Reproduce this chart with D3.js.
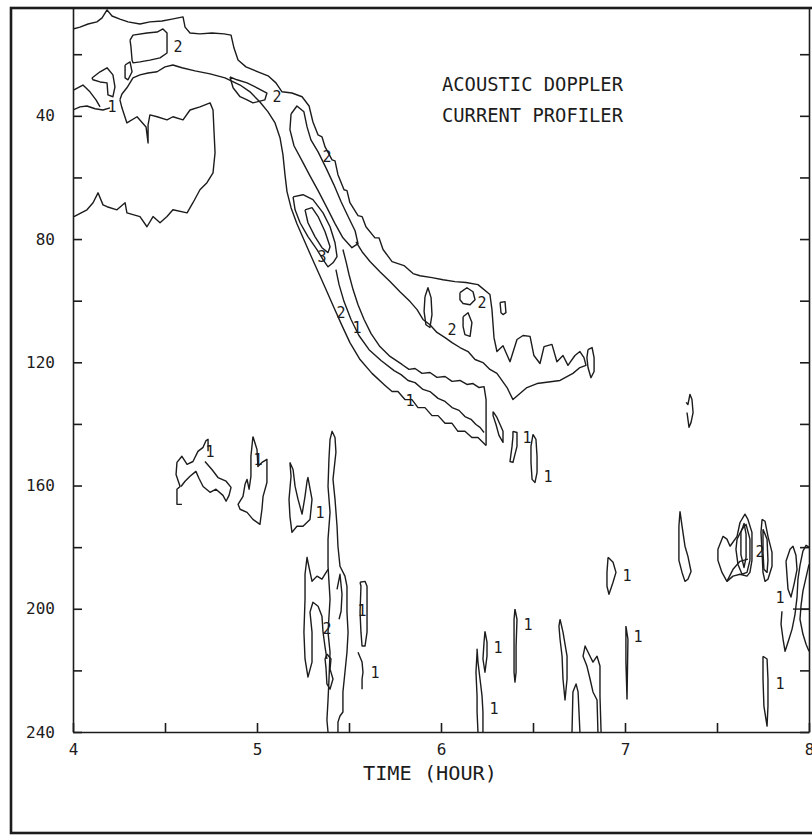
<!DOCTYPE html>
<html>
<head>
<meta charset="utf-8">
<script src="https://cdn.jsdelivr.net/npm/d3@7"></script>
<style>
  body { margin: 0; background: #fff; }
  svg { display: block; }
  text { font-family: "DejaVu Sans Mono", monospace; fill: #1c1c1c; }
</style>
</head>
<body>
<script>
// axis ticks
var hourTicks = [4, 4.5, 5, 5.5, 6, 6.5, 7, 7.5, 8];
var depthTicks = [20, 40, 60, 80, 100, 120, 140, 160, 180, 200, 220, 240];
var depthLabels = [40, 80, 120, 160, 200, 240];

// contour lines, [hour, depth]
var topLine = [[4.000,11.8],[4.038,11.2],[4.082,10.2],[4.130,9.5],[4.158,8.2],[4.185,5.6],[4.212,7.6],[4.255,8.6],[4.299,9.5],[4.364,10.2],[4.418,9.5],[4.484,9.2],[4.538,8.6],[4.598,7.9],[4.609,11.2],[4.636,13.1],[4.690,13.4],[4.755,13.1],[4.821,13.4],[4.859,13.8],[4.875,18.0],[4.897,21.9],[4.940,24.1],[5.005,25.7],[5.060,27.0],[5.103,29.3],[5.136,32.2],[5.190,32.6],[5.245,33.8],[5.283,36.8],[5.304,42.0],[5.332,46.2],[5.353,46.8],[5.370,50.1],[5.408,54.3],[5.424,54.6],[5.440,59.1],[5.473,64.0],[5.489,64.3],[5.505,68.2],[5.549,72.4],[5.571,72.7],[5.592,76.0],[5.641,79.6],[5.663,79.6],[5.685,83.4],[5.734,87.3],[5.799,88.6],[5.848,91.2],[5.886,91.9],[5.951,92.5],[6.011,93.2],[6.076,93.8],[6.136,94.1],[6.201,94.8],[6.266,98.0],[6.277,102.9],[6.283,107.8],[6.288,112.0],[6.304,116.5],[6.337,114.6],[6.375,119.8],[6.413,112.6],[6.446,111.3],[6.484,111.6],[6.505,117.8],[6.538,120.4],[6.560,114.9],[6.603,114.2],[6.630,119.8],[6.663,117.8],[6.690,121.0],[6.728,117.8],[6.755,116.5],[6.777,118.5],[6.788,121.0],[6.755,121.7],[6.717,123.6],[6.647,125.9],[6.522,126.9],[6.467,128.2],[6.391,132.1],[6.359,128.2],[6.304,123.6],[6.266,122.3],[6.228,120.1],[6.185,119.1],[6.147,116.5],[6.103,115.2],[6.060,113.6],[6.022,112.0],[5.978,110.3],[5.940,107.8],[5.902,106.1],[5.870,102.9],[5.832,100.3],[5.777,97.1],[5.723,93.8],[5.668,90.6],[5.614,87.3],[5.571,84.1],[5.538,80.9]];
var loopA = [[5.185,39.4],[5.217,36.8],[5.255,38.7],[5.272,43.6],[5.293,47.8],[5.332,51.7],[5.375,56.9],[5.418,62.4],[5.457,67.9],[5.495,72.7],[5.533,77.3],[5.549,81.5],[5.516,82.8],[5.467,79.6],[5.424,75.0],[5.380,69.8],[5.332,64.3],[5.288,59.5],[5.245,54.6],[5.201,49.7],[5.179,44.5],[5.185,39.4]];
var loopB = [[5.196,66.3],[5.250,65.6],[5.304,67.2],[5.359,71.5],[5.397,76.0],[5.424,81.2],[5.435,85.7],[5.413,87.7],[5.386,89.0],[5.359,86.7],[5.326,83.4],[5.277,79.2],[5.234,74.7],[5.207,70.5],[5.196,66.3]];
var loopB3 = [[5.261,70.5],[5.299,69.8],[5.332,72.7],[5.370,77.6],[5.397,82.5],[5.386,84.4],[5.353,82.8],[5.315,79.2],[5.277,74.7],[5.261,70.5]];
var lowerLeft = [[4.000,38.1],[4.038,37.1],[4.076,36.8],[4.120,37.7],[4.163,38.1],[4.201,37.4]];
var lowerBand = [[4.255,34.8],[4.266,32.9],[4.293,30.9],[4.326,27.7],[4.364,26.7],[4.408,26.1],[4.457,25.7],[4.500,24.1],[4.543,23.5],[4.592,24.4],[4.663,25.4],[4.745,26.4],[4.826,27.7],[4.908,30.0],[4.962,32.2],[5.016,35.5],[5.060,38.7],[5.098,42.3],[5.125,47.1],[5.141,52.6],[5.152,59.1],[5.163,64.6],[5.185,69.8],[5.217,75.0],[5.255,80.2],[5.293,85.4],[5.332,90.6],[5.375,96.4],[5.418,102.2],[5.462,108.1],[5.505,113.6],[5.560,119.1],[5.625,123.6],[5.696,127.5],[5.734,129.5],[5.766,129.5],[5.804,132.1],[5.842,132.1],[5.875,134.7],[5.913,134.7],[5.951,137.3],[5.984,137.3],[6.022,139.8],[6.060,139.8],[6.092,142.4],[6.130,142.4],[6.168,144.4],[6.201,144.4],[6.223,145.7],[6.245,147.0]];
var midBand = [[5.429,89.9],[5.446,94.8],[5.473,100.3],[5.511,106.1],[5.554,111.3],[5.609,115.9],[5.674,119.4],[5.745,122.7],[5.783,124.0],[5.821,125.9],[5.859,126.6],[5.902,128.8],[5.940,129.5],[5.984,131.7],[6.022,132.7],[6.060,134.7],[6.098,135.6],[6.130,137.6],[6.163,138.5],[6.190,140.2],[6.212,141.1],[6.234,142.8]];
var upperBand = [[5.467,83.4],[5.484,87.3],[5.500,91.5],[5.522,96.4],[5.549,101.3],[5.582,106.1],[5.620,110.7],[5.668,114.9],[5.723,118.1],[5.788,120.7],[5.826,122.3],[5.859,122.0],[5.897,123.6],[5.940,123.3],[5.978,124.9],[6.022,124.6],[6.060,126.2],[6.103,125.9],[6.141,127.2],[6.174,126.9],[6.207,128.2],[6.234,127.9],[6.245,132.1],[6.245,138.5],[6.245,147.0]];
var blobTL = [[4.005,72.7],[4.076,70.5],[4.109,68.2],[4.136,65.0],[4.163,68.9],[4.185,69.5],[4.239,70.5],[4.283,68.2],[4.293,71.5],[4.364,72.7],[4.402,76.0],[4.435,72.7],[4.473,74.7],[4.511,72.7],[4.543,70.5],[4.620,71.5],[4.652,68.2],[4.690,64.0],[4.728,61.7],[4.761,58.5],[4.772,52.0],[4.766,44.5],[4.761,38.1],[4.745,35.8],[4.690,37.1],[4.636,38.1],[4.598,41.3],[4.543,40.3],[4.511,41.3],[4.457,40.3],[4.418,39.7],[4.408,42.9],[4.408,48.8],[4.397,43.6],[4.348,40.3],[4.293,42.3],[4.266,37.4],[4.255,34.8]];
var smallTL = [[4.103,27.7],[4.147,25.7],[4.185,24.4],[4.217,26.7],[4.228,30.6],[4.217,33.8],[4.190,33.2],[4.185,29.3],[4.147,29.0],[4.109,28.3],[4.103,27.7]];
var edgeTL = [[4.005,31.6],[4.054,30.0],[4.092,32.2],[4.125,34.8],[4.147,37.1]];
var loopTop2 = [[4.310,15.4],[4.326,13.8],[4.402,13.1],[4.457,12.8],[4.489,11.8],[4.511,13.1],[4.511,19.6],[4.473,21.2],[4.418,21.9],[4.364,22.5],[4.326,22.8],[4.321,21.9],[4.315,17.6],[4.310,15.4]];
var loopTop2b = [[4.283,23.5],[4.310,22.5],[4.321,25.7],[4.299,28.3],[4.283,27.7],[4.283,23.5]];
var loopTop3 = [[4.853,27.4],[4.891,28.3],[4.946,29.3],[5.000,30.9],[5.054,32.6],[5.043,34.8],[4.978,35.8],[4.946,34.8],[4.908,33.8],[4.870,30.9],[4.853,27.4]];

var patchA = [[4.592,166.1],[4.565,166.1],[4.565,161.2],[4.582,160.3],[4.560,156.4],[4.565,152.5],[4.592,150.5],[4.620,153.1],[4.652,152.2],[4.679,148.9],[4.707,147.6],[4.723,145.4],[4.734,145.0],[4.734,148.9]];
var patchB = [[4.717,152.2],[4.755,154.8],[4.788,157.4],[4.832,158.6],[4.859,160.6],[4.848,163.2],[4.832,165.1],[4.815,163.2],[4.777,161.2],[4.745,162.2],[4.707,160.3],[4.685,157.7],[4.668,155.4],[4.636,157.0],[4.609,158.6],[4.587,160.3]];
var patchC = [[4.978,144.1],[5.000,148.3],[5.005,153.8],[5.027,152.5],[5.054,151.5],[5.054,159.0],[5.033,163.5],[5.027,167.7],[5.016,172.6],[4.978,171.0],[4.946,168.7],[4.908,167.7],[4.897,166.1],[4.924,163.5],[4.935,159.6],[4.946,158.0],[4.957,161.2],[4.967,157.0],[4.967,150.5],[4.978,144.1]];
var patchD = [[5.179,152.5],[5.196,154.8],[5.207,160.3],[5.223,164.5],[5.245,169.3],[5.261,163.5],[5.272,158.6],[5.277,157.4],[5.299,164.5],[5.288,171.0],[5.250,173.2],[5.217,173.2],[5.190,175.2],[5.179,170.0],[5.174,164.5],[5.185,157.0],[5.179,152.5]];
var column = [[5.386,240],[5.380,236.1],[5.386,229.6],[5.391,223.2],[5.397,214.1],[5.386,207.6],[5.397,196.9],[5.386,186.2],[5.386,177.4],[5.397,168.7],[5.386,160.3],[5.391,151.5],[5.397,145.0],[5.408,142.4],[5.424,144.4],[5.429,149.2],[5.413,158.0],[5.424,164.5],[5.435,173.2],[5.440,179.7],[5.451,186.2],[5.478,189.4],[5.489,192.7],[5.489,201.1],[5.495,207.6],[5.489,214.1],[5.478,220.6],[5.467,227.0],[5.467,233.5],[5.451,234.8],[5.440,236.8],[5.440,240]];
var patchE = [[5.386,187.2],[5.353,190.4],[5.326,189.4],[5.299,191.1],[5.277,184.9],[5.272,183.3],[5.261,188.8],[5.261,196.9],[5.255,207.6],[5.261,216.3],[5.277,222.2],[5.299,217.3],[5.299,207.6],[5.288,201.1],[5.304,197.9],[5.332,199.2],[5.353,202.4],[5.359,207.6],[5.370,212.5],[5.380,216.3]];
var patchF = [[5.380,214.7],[5.402,216.3],[5.397,219.6],[5.413,222.8],[5.397,226.1],[5.380,224.4],[5.375,219.2],[5.370,216.3],[5.380,214.7]];
var patchG = [[5.435,193.7],[5.451,188.8],[5.462,195.3],[5.457,200.8],[5.446,203.4]];
var patchH = [[5.560,191.4],[5.587,191.1],[5.598,192.7],[5.598,201.1],[5.598,207.6],[5.587,212.1],[5.571,212.1],[5.565,207.6],[5.560,201.1],[5.565,192.7],[5.560,191.4]];
var patchI = [[5.549,214.1],[5.571,217.3],[5.576,220.6],[5.571,222.8],[5.571,226.1]];

var streakA = [[6.283,136.0],[6.304,137.9],[6.321,140.2],[6.337,142.4],[6.337,146.0],[6.315,143.7],[6.299,140.2],[6.283,137.3],[6.283,136.0]];
var streakB = [[6.391,142.4],[6.413,142.8],[6.413,147.3],[6.391,152.5],[6.375,152.2],[6.386,147.3],[6.391,144.1],[6.391,142.4]];
var streakC = [[6.500,143.4],[6.516,145.0],[6.522,150.5],[6.522,155.7],[6.511,159.0],[6.495,158.0],[6.489,152.5],[6.489,147.3],[6.500,143.4]];
var hook = [[7.332,133.0],[7.342,133.7],[7.353,130.4],[7.364,132.1],[7.370,136.3],[7.359,139.5],[7.348,141.1],[7.342,138.5],[7.337,136.3]];
var ovalA = [[6.908,183.3],[6.935,184.9],[6.951,188.2],[6.935,191.4],[6.913,195.3],[6.902,192.7],[6.902,188.2],[6.908,183.3]];
var ovalB = [[7.299,168.4],[7.310,173.2],[7.326,179.7],[7.342,183.0],[7.359,187.9],[7.342,190.4],[7.326,191.1],[7.310,188.2],[7.293,184.3],[7.293,178.4],[7.293,173.2],[7.299,168.4]];
var clusterOut = [[7.505,180.7],[7.533,176.5],[7.554,177.4],[7.571,179.7],[7.609,176.5],[7.625,172.0],[7.652,169.3],[7.668,171.0],[7.690,175.2],[7.690,184.3],[7.679,188.2],[7.663,189.4],[7.625,188.8],[7.587,189.4],[7.554,191.1],[7.527,188.2],[7.505,184.3],[7.505,180.7]];
var clusterIn1 = [[7.609,177.4],[7.636,174.2],[7.658,172.6],[7.679,177.4],[7.679,184.3],[7.663,188.2],[7.636,188.8],[7.614,185.6],[7.603,180.7],[7.609,177.4]];
var clusterIn2 = [[7.630,175.2],[7.647,172.3],[7.658,175.8],[7.658,183.3],[7.647,186.6],[7.630,182.4],[7.630,175.2]];
var clusterArc = [[7.554,191.1],[7.587,187.2],[7.625,184.6],[7.668,183.9]];
var ovalC = [[7.745,171.0],[7.761,171.6],[7.777,176.5],[7.799,181.7],[7.799,186.2],[7.777,190.4],[7.761,191.1],[7.750,188.2],[7.745,181.7],[7.739,175.2],[7.745,171.0]];
var ovalC2 = [[7.750,174.2],[7.772,177.4],[7.777,184.3],[7.772,188.2],[7.755,187.2],[7.750,181.7],[7.750,174.2]];
var edgeA = [[7.853,200.8],[7.848,205.0],[7.859,209.9],[7.870,213.8],[7.891,209.9],[7.908,206.6],[7.924,201.8],[7.935,196.2],[7.940,190.4],[7.951,185.9],[7.967,181.3],[7.984,179.4],[8.000,180.0]];
var edgeB = [[8.000,185.6],[7.984,189.8],[7.967,194.3],[7.957,198.8],[7.951,203.4],[7.967,208.2],[7.984,211.5],[8.000,213.8]];
var edgeC = [[7.913,200.1],[8.000,200.1]];
var edgeD = [[7.875,184.6],[7.897,180.7],[7.913,179.7],[7.929,182.6],[7.935,187.2],[7.919,192.0],[7.902,196.2],[7.886,193.7],[7.880,188.8],[7.875,184.6]];

var barA = [[6.201,240],[6.196,233.5],[6.196,228.3],[6.190,220.6],[6.196,214.1],[6.196,213.1],[6.201,217.3],[6.212,222.8],[6.223,228.3],[6.228,233.5],[6.228,240]];
var barB = [[6.239,207.3],[6.250,210.8],[6.250,215.4],[6.239,220.6],[6.228,216.3],[6.234,210.8],[6.239,207.3]];
var barC = [[6.402,200.1],[6.413,203.4],[6.408,212.1],[6.408,220.6],[6.402,223.8],[6.397,220.6],[6.397,212.1],[6.397,203.4],[6.402,200.1]];
var barD = [[6.647,203.4],[6.663,207.6],[6.685,215.4],[6.685,222.8],[6.674,229.6],[6.663,222.8],[6.658,215.4],[6.647,209.9],[6.641,205.6],[6.647,203.4]];
var barE = [[6.712,240],[6.717,227.0],[6.734,224.4],[6.745,227.0],[6.750,233.5],[6.755,240]];
var barF = [[6.853,240],[6.848,229.6],[6.826,227.0],[6.810,222.8],[6.793,218.6],[6.772,215.4],[6.783,212.1],[6.810,215.4],[6.826,217.3],[6.848,215.4],[6.864,218.6],[6.864,228.3],[6.870,240]];
var barG = [[7.005,205.6],[7.016,209.9],[7.011,229.3],[7.005,217.3],[7.005,205.6]];
var barH = [[7.750,215.4],[7.772,216.3],[7.777,222.8],[7.777,231.6],[7.772,238.1],[7.755,231.6],[7.750,222.8],[7.750,215.4]];

var bitA = [[5.913,98.7],[5.929,95.8],[5.946,99.0],[5.951,104.5],[5.940,108.7],[5.918,107.8],[5.908,103.5],[5.913,98.7]];
var bitB = [[6.103,97.4],[6.141,95.8],[6.174,97.1],[6.185,99.7],[6.158,101.3],[6.120,100.9],[6.103,99.7],[6.103,97.4]];
var bitC = [[6.321,100.6],[6.348,100.3],[6.353,103.9],[6.337,104.5],[6.326,103.9],[6.321,100.6]];
var bitD = [[6.120,105.2],[6.147,103.9],[6.168,107.1],[6.158,111.6],[6.130,111.0],[6.120,108.4],[6.120,105.2]];
var bitE = [[6.799,115.9],[6.821,115.2],[6.832,118.5],[6.832,123.0],[6.815,125.0],[6.799,121.7],[6.793,118.5],[6.799,115.9]];

var contours = [topLine, loopA, loopB, loopB3, lowerLeft, lowerBand, midBand, upperBand,
  blobTL, smallTL, edgeTL, loopTop2, loopTop2b, loopTop3,
  patchA, patchB, patchC, patchD, column, patchE, patchF, patchG, patchH, patchI,
  streakA, streakB, streakC, hook, ovalA, ovalB, clusterOut, clusterIn1, clusterIn2, clusterArc,
  ovalC, ovalC2, edgeA, edgeB, edgeC, edgeD,
  barA, barB, barC, barD, barE, barF, barG, barH,
  bitA, bitB, bitC, bitD, bitE];

// contour level labels: [hour, depth, text]
var levelLabels = [[4.212,37.1,"1"],[4.571,17.6,"2"],[5.109,33.8,"2"],[5.380,53.3,"2"],[5.353,85.7,"3"],
  [5.457,103.9,"2"],[5.543,108.7,"1"],[5.832,132.4,"1"],[6.223,100.6,"2"],[6.060,109.4,"2"],
  [4.745,148.9,"1"],[5.005,151.5,"1"],[5.342,168.7,"1"],[5.380,206.6,"2"],[5.571,200.5,"1"],[5.641,220.6,"1"],
  [6.467,144.4,"1"],[6.582,157.0,"1"],[7.011,189.1,"1"],[7.734,181.3,"2"],[7.842,196.5,"1"],
  [6.288,232.5,"1"],[6.310,212.5,"1"],[6.473,205.3,"1"],[7.071,208.9,"1"],[7.842,224.4,"1"]];

var titleLines = ["ACOUSTIC DOPPLER", "CURRENT PROFILER"];
var xTitle = "TIME (HOUR)";

drawChart();

function drawChart() {
  var width = 812, height = 835;
  var plotLeft = 73, plotRight = 809, plotTop = 8, plotBottom = 732;
  var ink = "#1c1c1c";

  var svg = d3.select("body")
    .append("svg")
    .attr("width", width)
    .attr("height", height);

  svg.append("rect")
    .attr("width", width)
    .attr("height", height)
    .attr("fill", "#fff");

  var x = d3.scaleLinear().domain([4, 8]).range([plotLeft, plotRight]);
  var y = d3.scaleLinear().domain([5, 240]).range([plotTop, plotBottom]);

  // outer frame, runs off the right edge
  svg.append("rect")
    .attr("x", 11)
    .attr("y", 8)
    .attr("width", 840)
    .attr("height", 825)
    .attr("fill", "none")
    .attr("stroke", ink)
    .attr("stroke-width", 2.6);

  svg.append("clipPath")
    .attr("id", "plot")
    .append("rect")
    .attr("x", plotLeft)
    .attr("y", plotTop)
    .attr("width", plotRight - plotLeft)
    .attr("height", plotBottom - plotTop);

  var line = d3.line()
    .x(function(d) { return x(d[0]); })
    .y(function(d) { return y(d[1]); });

  svg.append("g")
    .attr("clip-path", "url(#plot)")
    .selectAll("path")
    .data(contours)
    .enter()
    .append("path")
    .attr("d", line)
    .attr("fill", "none")
    .attr("stroke", ink)
    .attr("stroke-width", 1.4)
    .attr("stroke-linejoin", "round");

  svg.append("g")
    .selectAll("text")
    .data(levelLabels)
    .enter()
    .append("text")
    .attr("x", function(d) { return x(d[0]); })
    .attr("y", function(d) { return y(d[1]); })
    .attr("text-anchor", "middle")
    .attr("dy", "0.36em")
    .style("font-size", "15px")
    .text(function(d) { return d[2]; });

  // axes, ticks point inward
  var leftAxis = d3.axisLeft(y)
    .tickValues(depthTicks)
    .tickSize(-9)
    .tickSizeOuter(0)
    .tickPadding(18)
    .tickFormat(function(d) { return depthLabels.indexOf(d) >= 0 ? d : ""; });

  var rightAxis = d3.axisRight(y)
    .tickValues(depthTicks)
    .tickSize(-9)
    .tickSizeOuter(0)
    .tickFormat("");

  var bottomAxis = d3.axisBottom(x)
    .tickValues(hourTicks)
    .tickSize(-9)
    .tickSizeOuter(0)
    .tickPadding(12)
    .tickFormat(function(d) { return Number.isInteger(d) ? d : ""; });

  function styleAxis(g) {
    g.selectAll("path, line").attr("stroke", ink).attr("stroke-width", 1.6);
    g.selectAll("text")
      .attr("fill", ink)
      .style("font-family", "'DejaVu Sans Mono', monospace")
      .style("font-size", "16px");
  }

  svg.append("g").attr("transform", "translate(" + plotLeft + ",0)").call(leftAxis).call(styleAxis);
  svg.append("g").attr("transform", "translate(" + plotRight + ",0)").call(rightAxis).call(styleAxis);
  svg.append("g").attr("transform", "translate(0," + plotBottom + ")").call(bottomAxis).call(styleAxis);

  svg.append("text")
    .attr("x", 363)
    .attr("y", 780)
    .attr("textLength", 134)
    .attr("lengthAdjust", "spacingAndGlyphs")
    .style("font-size", "19px")
    .text(xTitle);

  svg.selectAll(".title")
    .data(titleLines)
    .enter()
    .append("text")
    .attr("class", "title")
    .attr("x", 442)
    .attr("y", function(d, i) { return 91 + i * 31; })
    .attr("textLength", 181)
    .attr("lengthAdjust", "spacingAndGlyphs")
    .style("font-size", "19px")
    .text(function(d) { return d; });
}
</script>
</body>
</html>
